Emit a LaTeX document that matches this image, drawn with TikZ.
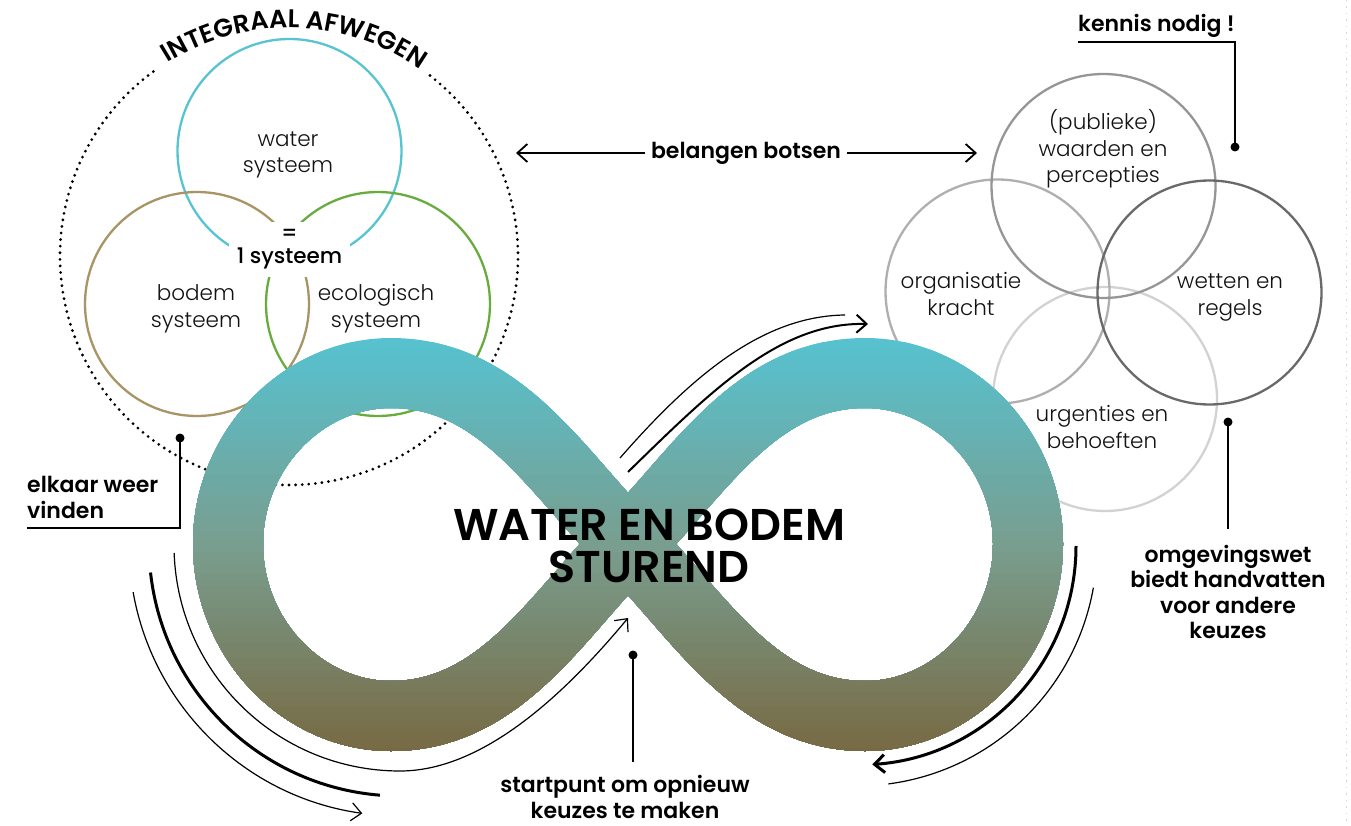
\documentclass[tikz,border=0pt]{standalone}
\usepackage{fontspec}
\setmainfont{Poppins}
\IfFontExistsTF{Poppins Light}{\newfontfamily\lightf{Poppins Light}}{\newfontfamily\lightf{Poppins}}
\IfFontExistsTF{Poppins SemiBold}{\newfontfamily\semif{Poppins SemiBold}}{\def\semif{\bfseries}}
\IfFontExistsTF{Poppins Medium}{\newfontfamily\medf{Poppins Medium}}{\def\medf{\normalfont}}
\usetikzlibrary{arrows.meta,decorations.text}

\definecolor{cwater}{RGB}{88,196,210}
\definecolor{cbodem}{RGB}{168,148,100}
\definecolor{ceco}{RGB}{104,172,62}
\definecolor{gtop}{RGB}{150,150,153}
\definecolor{gleft}{RGB}{175,175,178}
\definecolor{gright}{RGB}{105,105,108}
\definecolor{gbot}{RGB}{210,210,210}
\definecolor{bandtop}{RGB}{86,194,208}
\definecolor{bandmid}{RGB}{121,157,142}
\definecolor{bandbot}{RGB}{119,104,64}
\definecolor{labelc}{RGB}{18,18,18}
\definecolor{faint}{RGB}{215,215,215}

\tikzset{
  lbl/.style={font=\lightf\fontsize{21.5}{26.5}\selectfont, text=labelc, align=center, inner sep=0pt, anchor=base},
  eqtext/.style={font=\medf\fontsize{21.5}{24}\selectfont, text=black, align=center, inner sep=0pt, anchor=base},
  callout/.style={font=\semif\fontsize{22}{25.5}\selectfont, text=black, inner sep=0pt},
  titletext/.style={font=\semif\fontsize{44.5}{42}\selectfont, text=black, align=center, inner sep=0pt, anchor=base},
  venn/.style={circle, minimum size=224pt, inner sep=0pt, line width=2.3pt},
  leader/.style={line width=2pt, black},
  dotnode/.style={circle, fill=black, minimum size=9pt, inner sep=0pt},
  flowthin/.style={line width=1.2pt, black},
  flowmid/.style={line width=2pt, black},
  flowthick/.style={line width=3pt, black},
  barb/.style={-{Straight Barb[length=10pt,width=18pt]}},
  dottedcirc/.style={line width=3.1pt, line cap=round, dash pattern=on 0pt off 6.6pt, black},
}

\def\infpath{(628,544) .. controls (699,473) and (755,373) .. (865,373)
  .. controls (953,373) and (1028,450) .. (1028,544)
  .. controls (1028,639) and (953,716) .. (865,716)
  .. controls (755,716) and (699,615) .. (628,544)
  .. controls (557,473) and (501,373) .. (391,373)
  .. controls (303,373) and (228,450) .. (228,544)
  .. controls (228,639) and (303,716) .. (391,716)
  .. controls (501,716) and (557,615) .. cycle}

\begin{document}
\begin{tikzpicture}[x=1pt,y=-1pt]
\useasboundingbox (0,0) rectangle (1351,826);
\fill[white] (0,0) rectangle (1351,826);

% faint cut-off marks at the right edge
\draw[faint, line width=0.8pt, dash pattern=on 1.5pt off 5pt] (1346,0) -- (1346,826);

% ---------- left group ----------
\coordinate (dc) at (289,256);
\draw[dottedcirc] (dc) ++(-52:229) arc[start angle=-52, end angle=234, radius=229];
\path[decorate, decoration={text along path, text align=center,
  text={|\semif\fontsize{25.5}{25.5}\selectfont|INTEGRAAL AFWEGEN}}]
  (dc) ++(221.5:228) arc[start angle=221.5, end angle=321.5, radius=228];

\node[venn, draw=cwater] (water) at (289.5,151) {};
\node[venn, draw=cbodem] (bodem) at (197,304) {};
\node[venn, draw=ceco] (eco) at (378,304) {};
\node[fill=white, minimum width=121pt, minimum height=55pt, inner sep=0pt] (eqbox) at (289.5,249.5) {};
\node[eqtext] (eqtxt) at (289.5,264) {=\\1 systeem};

\node[lbl] (lwater) at (288,173) {water\\systeem};
\node[lbl] (lbodem) at (196,327) {bodem\\systeem};
\node[lbl] (leco) at (376,327) {ecologisch\\systeem};

% ---------- right group ----------
\node[venn, draw=gbot] (urg) at (1105,399) {};
\node[venn, draw=gleft] (org) at (997.5,291.5) {};
\node[venn, draw=gtop] (pub) at (1103.5,186) {};
\node[venn, draw=gright] (wet) at (1209.5,292.5) {};

\node[lbl] (lpub) at (1103,183) {(publieke)\\waarden en\\percepties};
\node[lbl] (lorg) at (961,315) {organisatie\\kracht};
\node[lbl] (lwet) at (1230,315) {wetten en\\regels};
\node[lbl] (lurg) at (1102,448) {urgenties en\\behoeften};

% ---------- infinity band with vertical gradient ----------
\foreach \i in {0,...,60}{
  \pgfmathsetmacro{\yy}{335+\i*7}
  \ifnum\i<30
    \pgfmathsetmacro{\pp}{100-\i*100/30}
    \colorlet{bandc}{bandtop!\pp!bandmid}
  \else
    \pgfmathsetmacro{\pp}{100-(\i-30)*100/30}
    \colorlet{bandc}{bandmid!\pp!bandbot}
  \fi
  \begin{scope}
    \clip (150,\yy) rectangle (1110,800);
    \draw[line width=70pt, bandc, line join=round] \infpath;
  \end{scope}
}

\node[titletext] (title) at (649,582) {WATER EN BODEM\\STUREND};

% ---------- flow arrows ----------
\coordinate (tmA) at (628,472);
\coordinate (tmB) at (868,324);
\coordinate (tuA) at (620,458);
\coordinate (tuB) at (845,315);
\draw[flowmid, barb] (tmA) .. controls (712,390) and (780,322) .. (tmB);
\draw[flowthin] (tuA) .. controls (695,372) and (765,316) .. (tuB);

\coordinate (lc) at (400,545);
\coordinate (innerEnd) at (628,618);
\draw[flowthin, barb] (lc) ++(178:226) arc[start angle=178, end angle=90, radius=226]
   .. controls (480,771) and (560,700) .. (innerEnd);
\draw[flowthick] (lc) ++(173.7:251) arc[start angle=173.7, end angle=94.6, radius=251];
\draw[flowthin, barb] (lc) ++(170:271) arc[start angle=170, end angle=98, radius=271];

\coordinate (rc) at (857,546);
\draw[flowthick, barb] (rc) ++(0:219) arc[start angle=0, end angle=86, radius=219];
\draw[flowthin] (rc) ++(10:240) arc[start angle=10, end angle=82.5, radius=240];

% ---------- belangen botsen ----------
\node[callout, inner xsep=6pt] (bb) at (746,153) {belangen botsen};
\coordinate (bbL) at (516,153);
\coordinate (bbR) at (977,153);
\draw[leader, line width=1.8pt, barb] (bb.west) -- (bbL);
\draw[leader, line width=1.8pt, barb] (bb.east) -- (bbR);

% ---------- callouts ----------
\node[callout, anchor=base west] (kn) at (1078,32) {kennis nodig !};
\node[dotnode] (kndot) at (1235,147) {};
\coordinate (knA) at (1078,42);
\coordinate (knB) at (1235,42);
\draw[leader] (knA) -- (knB) -- (kndot.center);

\node[callout, anchor=base west, align=left] (ev) at (27,518) {elkaar weer\\vinden};
\node[dotnode] (evdot) at (180,438) {};
\coordinate (evA) at (27,528);
\coordinate (evB) at (180,528);
\draw[leader] (evA) -- (evB) -- (evdot.center);

\node[callout, anchor=base, align=center] (og) at (1228,638.5) {omgevingswet\\biedt handvatten\\voor andere\\keuzes};
\node[dotnode] (ogdot) at (1228,422) {};
\coordinate (ogA) at (1228,529);
\draw[leader] (ogdot.center) -- (ogA);

\node[callout, anchor=base, align=center] (sp) at (625,818) {startpunt om opnieuw\\keuzes te maken};
\node[dotnode] (spdot) at (633,655) {};
\coordinate (spA) at (633,762);
\draw[leader] (spdot.center) -- (spA);
\end{tikzpicture}
\end{document}
